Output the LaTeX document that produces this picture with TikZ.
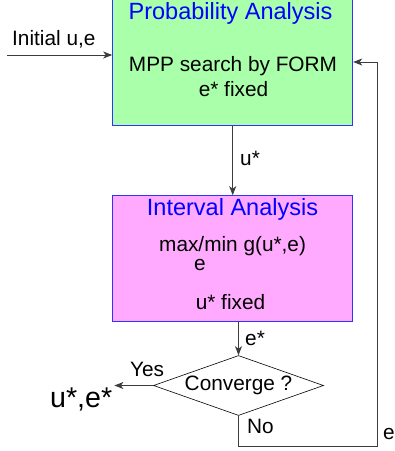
\documentclass[tikz,border=0pt]{standalone}
\usepackage{fontspec}
\setmainfont{Liberation Sans}
\usetikzlibrary{arrows.meta,shapes.geometric}
\definecolor{probgreen}{RGB}{170,255,170}
\definecolor{intvpink}{RGB}{255,170,255}
\definecolor{boxblue}{RGB}{50,50,255}
\definecolor{titleblue}{RGB}{0,0,255}
\definecolor{flowgray}{RGB}{60,60,60}
\tikzset{
  blockbox/.style={draw=boxblue, line width=1pt, minimum width=240pt, inner sep=0pt},
  txt/.style={inner sep=0pt, font=\fontsize{20.8}{25}\selectfont},
  ttl/.style={inner sep=0pt, text=titleblue, font=\fontsize{23.5}{28}\selectfont},
  flow/.style={draw=flowgray, line width=0.9pt, -{Stealth[length=9pt,width=7pt,inset=2.5pt]}}
}

\begin{document}
\begin{tikzpicture}[x=1pt,y=-1pt]
  \useasboundingbox (0,0) rectangle (395,451);

  % Boxes
  \node[blockbox, fill=probgreen, minimum height=127pt] (prob) at (232.7,62) {};
  \node[blockbox, fill=intvpink, minimum height=126pt] (intv) at (232.7,258.7) {};
  \node[diamond, draw=black, line width=0.6pt, aspect=2.83, inner sep=0pt,
        minimum width=170pt, minimum height=60pt, txt] (conv) at (238.5,385.5) {Converge ?};

  % Texts in the boxes
  \node[ttl, anchor=base] (probtitle) at (230.5,19.3) {Probability Analysis};
  \node[txt, anchor=base] (mpp) at (233,71.7) {MPP search by FORM};
  \node[txt, anchor=base] (efix) at (233.5,96.7) {e* fixed};
  \node[ttl, anchor=base] (intvtitle) at (232.5,215) {Interval Analysis};
  \node[txt, anchor=base west] (maxmin) at (159,251.7) {max/min g(u*,e)};
  \node[txt, anchor=base] (maxsub) at (200,270) {e};
  \node[txt, anchor=base] (ufix) at (230.5,309.3) {u* fixed};

  % Labels
  \node[txt, anchor=base west] (init) at (12,45) {Initial u,e};
  \node[txt, anchor=base west] (ulab) at (240,165) {u*};
  \node[txt, anchor=base west] (elab) at (245,345) {e*};
  \node[txt, anchor=base west] (yes) at (130,376) {Yes};
  \node[txt, anchor=base west] (no) at (247,433.3) {No};
  \node[txt, anchor=base west] (eback) at (383,439) {e*};
  \node[anchor=base west, inner sep=0pt, font=\fontsize{28.6}{32}\selectfont] (result) at (50,407.7) {u*,e*};

  % Connectors
  \coordinate (start) at (7,55);
  \coordinate (loop) at (377.3,446);
  \draw[flow] (start) -- (start -| prob.west);
  \draw[flow] (prob.south) -- (intv.north);
  \draw[flow] (intv.south -| conv.north) -- (conv.north);
  \draw[flow] (conv.west) -- ([xshift=2pt]conv.west -| result.east);
  \draw[flow] (conv.south) |- (loop) |- (prob.east);
\end{tikzpicture}
\end{document}
